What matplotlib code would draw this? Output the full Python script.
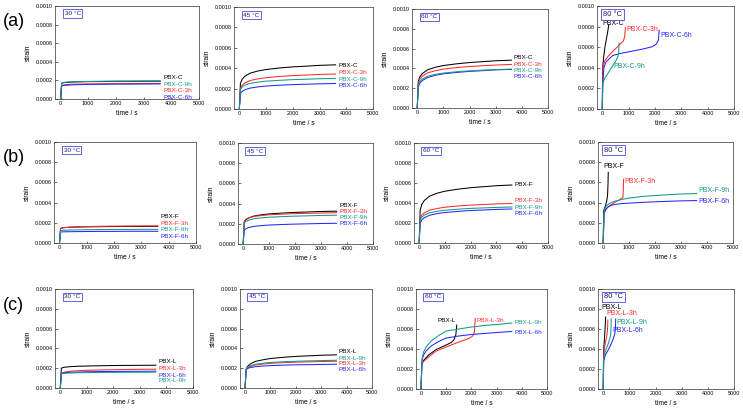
import matplotlib
matplotlib.use("Agg")
import matplotlib.pyplot as plt
import numpy as np

plt.rcParams['font.family'] = ['Liberation Sans', 'DejaVu Sans']

# --- data (strain in units of 1e-4) -------------------------------------
row_names = ["(a)", "(b)", "(c)"]
temps = ["30 °C", "45 °C", "60 °C", "80 °C"]
series_c = ["PBX-C", "PBX-C-3h", "PBX-C-6h", "PBX-C-9h"]
series_f = ["PBX-F", "PBX-F-3h", "PBX-F-6h", "PBX-F-9h"]
series_l = ["PBX-L", "PBX-L-3h", "PBX-L-6h", "PBX-L-9h"]
colors = ["#000000", "#ff2a2a", "#2626ff", "#12998c"]

t_long = [0, 40, 100, 200, 400, 700, 1000, 1500, 2000, 2500, 3000, 3600]

# each list: base, 3h, 6h, 9h
c30 = [[0, 1.70, 1.75, 1.78, 1.82, 1.85, 1.87, 1.88, 1.90, 1.90, 1.91, 1.92],
       [0, 1.45, 1.50, 1.54, 1.58, 1.60, 1.62, 1.64, 1.65, 1.66, 1.67, 1.68],
       [0, 1.40, 1.45, 1.48, 1.52, 1.55, 1.57, 1.58, 1.60, 1.60, 1.61, 1.62],
       [0, 1.72, 1.77, 1.81, 1.85, 1.87, 1.89, 1.91, 1.92, 1.93, 1.94, 1.95]]
c45 = [[0, 2.50, 2.90, 3.20, 3.51, 3.73, 3.87, 4.02, 4.13, 4.20, 4.28, 4.33],
       [0, 2.00, 2.31, 2.54, 2.79, 2.96, 3.07, 3.19, 3.27, 3.33, 3.39, 3.43],
       [0, 1.50, 1.72, 1.88, 2.05, 2.17, 2.25, 2.33, 2.39, 2.43, 2.47, 2.50],
       [0, 1.90, 2.14, 2.32, 2.51, 2.64, 2.73, 2.81, 2.88, 2.92, 2.97, 3.00]]
c60 = [[0, 2.67, 3.15, 3.49, 3.86, 4.12, 4.29, 4.46, 4.59, 4.68, 4.77, 4.83],
       [0, 2.50, 2.92, 3.22, 3.55, 3.77, 3.93, 4.08, 4.19, 4.27, 4.34, 4.40],
       [0, 2.10, 2.50, 2.78, 3.09, 3.31, 3.45, 3.59, 3.70, 3.77, 3.85, 3.90],
       [0, 2.33, 2.68, 2.94, 3.21, 3.40, 3.53, 3.66, 3.75, 3.82, 3.88, 3.93]]
c80_t = [[0, 15, 50, 100, 150, 200, 250],
         [0, 20, 100, 250, 400, 600, 800, 850, 880],
         [0, 20, 60, 150, 400, 700, 1000, 1500, 1900, 2050, 2130, 2160],
         [0, 20, 100, 200, 300, 400, 500, 580, 620, 640]]
c80 = [[0, 4.0, 5.0, 6.0, 6.7, 7.4, 8.2],
       [0, 4.0, 4.7, 5.2, 5.6, 6.1, 6.6, 7.0, 7.9],
       [0, 2.5, 4.0, 4.6, 5.2, 5.4, 5.55, 5.8, 6.05, 6.3, 6.7, 7.65],
       [0, 2.5, 3.0, 3.4, 3.8, 4.2, 4.6, 5.0, 5.4, 6.4]]

f30 = [[0, 1.45, 1.49, 1.53, 1.56, 1.58, 1.60, 1.62, 1.63, 1.64, 1.64, 1.65],
       [0, 1.42, 1.48, 1.53, 1.57, 1.61, 1.63, 1.65, 1.67, 1.68, 1.69, 1.70],
       [0, 1.08, 1.10, 1.11, 1.12, 1.13, 1.14, 1.15, 1.15, 1.16, 1.16, 1.16],
       [0, 1.22, 1.25, 1.27, 1.29, 1.30, 1.32, 1.33, 1.34, 1.34, 1.35, 1.35]]
f45 = [[0, 2.15, 2.39, 2.57, 2.76, 2.89, 2.98, 3.06, 3.13, 3.17, 3.22, 3.25],
       [0, 2.25, 2.44, 2.57, 2.72, 2.82, 2.89, 2.96, 3.01, 3.04, 3.07, 3.10],
       [0, 1.35, 1.50, 1.62, 1.74, 1.82, 1.88, 1.93, 1.97, 2.00, 2.03, 2.05],
       [0, 2.05, 2.23, 2.35, 2.49, 2.59, 2.65, 2.71, 2.76, 2.79, 2.83, 2.85]]
f60 = [[0, 3.30, 3.85, 4.25, 4.68, 4.98, 5.18, 5.38, 5.53, 5.63, 5.73, 5.80],
       [0, 2.45, 2.78, 3.02, 3.28, 3.45, 3.58, 3.70, 3.79, 3.85, 3.91, 3.95],
       [0, 2.00, 2.31, 2.53, 2.77, 2.94, 3.05, 3.16, 3.25, 3.30, 3.36, 3.40],
       [0, 2.30, 2.59, 2.79, 3.02, 3.17, 3.28, 3.38, 3.46, 3.51, 3.56, 3.60]]
f80_t = [[0, 20, 60, 100, 140, 170, 185, 195],
         [0, 20, 100, 200, 400, 600, 760, 775, 785],
         t_long,
         t_long]
f80 = [[0, 3.2, 3.5, 3.8, 4.2, 4.8, 5.8, 7.0],
       [0, 2.8, 3.3, 3.6, 3.95, 4.25, 4.5, 5.3, 6.3],
       [0, 3.00, 3.35, 3.60, 3.80, 3.90, 3.95, 4.02, 4.08, 4.13, 4.17, 4.20],
       [0, 3.30, 3.60, 3.85, 4.10, 4.30, 4.45, 4.60, 4.70, 4.78, 4.85, 4.90]]

l30 = [[0, 2.00, 2.07, 2.11, 2.16, 2.20, 2.22, 2.25, 2.27, 2.28, 2.29, 2.30],
       [0, 1.45, 1.55, 1.62, 1.70, 1.75, 1.79, 1.82, 1.85, 1.87, 1.89, 1.90],
       [0, 1.45, 1.51, 1.55, 1.59, 1.61, 1.64, 1.66, 1.67, 1.68, 1.69, 1.70],
       [0, 1.42, 1.46, 1.49, 1.52, 1.54, 1.55, 1.57, 1.58, 1.59, 1.59, 1.60]]
l45 = [[0, 1.85, 2.18, 2.42, 2.68, 2.85, 2.98, 3.10, 3.19, 3.25, 3.31, 3.35],
       [0, 1.85, 2.04, 2.17, 2.32, 2.42, 2.49, 2.56, 2.61, 2.64, 2.67, 2.70],
       [0, 1.85, 1.97, 2.06, 2.15, 2.22, 2.26, 2.31, 2.34, 2.36, 2.38, 2.40],
       [0, 1.90, 2.10, 2.24, 2.40, 2.50, 2.58, 2.65, 2.70, 2.74, 2.77, 2.80]]
l60_t = [[0, 30, 100, 300, 600, 1000, 1200, 1300, 1380, 1420],
         [0, 30, 100, 300, 600, 1000, 1500, 1900, 2050, 2120, 2150],
         t_long,
         t_long]
l60 = [[0, 2.5, 2.85, 3.4, 3.95, 4.4, 4.65, 4.9, 5.4, 6.4],
       [0, 2.5, 2.75, 3.2, 3.8, 4.2, 4.7, 5.05, 5.3, 5.7, 7.05],
       [0, 2.90, 3.40, 3.80, 4.30, 4.75, 5.10, 5.30, 5.45, 5.55, 5.65, 5.75],
       [0, 3.00, 3.70, 4.20, 4.80, 5.35, 5.80, 6.00, 6.20, 6.35, 6.45, 6.60]]
l80_t = [[0, 10, 20, 40, 60, 80, 90],
         [0, 15, 40, 80, 130, 160, 170, 175],
         [0, 20, 80, 190, 300, 380, 440, 465, 475],
         [0, 15, 60, 130, 200, 260, 290, 300, 305]]
l80 = [[0, 3.0, 4.0, 4.8, 5.6, 6.5, 7.2],
       [0, 3.2, 4.0, 4.6, 5.2, 5.8, 6.3, 6.9],
       [0, 2.8, 3.4, 3.9, 4.5, 5.0, 5.5, 6.0, 7.0],
       [0, 3.0, 3.6, 4.1, 4.6, 5.1, 5.6, 6.2, 7.0]]

# --- layout -------------------------------------------------------------
W, H = 743, 411
# axes boxes in pixels: left, top, right, bottom
boxes = [[(55, 6, 199, 99), (234, 7, 373, 109), (412, 9, 548, 108), (597, 6, 734, 109)],
         [(54, 142, 196, 243), (238, 143, 373, 244), (414, 143, 548, 243), (598, 142, 733, 243)],
         [(55, 289, 193, 388), (240, 289, 372, 388), (416, 289, 547, 389), (598, 289, 734, 389)]]

# label positions (t, strain*1e4) for base, 3h, 6h, 9h
label_pos = [
    [[(3700, 2.3), (3700, 0.9), (3700, 0.2), (3700, 1.6)],
     [(3700, 4.27), (3700, 3.6), (3700, 2.27), (3700, 2.93)],
     [(3700, 5.1), (3700, 4.43), (3700, 3.17), (3700, 3.77)],
     [(0, 8.3), (910, 7.75), (2220, 7.1), (440, 4.1)]],
    [[(3700, 2.65), (3700, 1.9), (3700, 0.6), (3700, 1.3)],
     [(3700, 3.85), (3700, 3.2), (3700, 2.0), (3700, 2.6)],
     [(3700, 5.85), (3700, 4.25), (3700, 2.95), (3700, 3.6)],
     [(0, 7.55), (830, 6.1), (3650, 4.1), (3650, 5.2)]],
    [[(3700, 2.7), (3700, 1.95), (3700, 1.28), (3700, 0.74)],
     [(3700, 3.7), (3700, 2.45), (3700, 1.9), (3700, 3.0)],
     [(670, 6.83), (2190, 6.83), (3720, 5.67), (3720, 6.67)],
     [(-60, 8.15), (130, 7.55), (360, 5.8), (510, 6.7)]],
]

rows = [
    (series_c, [(t_long, c30), (t_long, c45), (t_long, c60), (c80_t, c80)]),
    (series_f, [(t_long, f30), (t_long, f45), (t_long, f60), (f80_t, f80)]),
    (series_l, [(t_long, l30), (t_long, l45), (l60_t, l60), (l80_t, l80)]),
]

fig = plt.figure(figsize=(W / 100, H / 100), dpi=100)

for r, (names, panels) in enumerate(rows):
    for c, (tt, vals) in enumerate(panels):
        l, t, rr, b = boxes[r][c]
        ax = fig.add_axes([l / W, 1 - b / H, (rr - l) / W, (b - t) / H])
        for k in range(4):
            tk = tt[k] if isinstance(tt[0], list) else tt
            ax.plot(tk, np.array(vals[k]) * 1e-4, color=colors[k], lw=0.75)
            px, py = label_pos[r][c][k]
            ax.text(px, py * 1e-4, names[k], color=colors[k],
                    fontsize=4.6 if c < 3 else 5.0, ha='left', va='center')
        ax.set_xlim(-200, 5000)
        ax.set_ylim(0, 0.001)
        ax.set_xticks([0, 1000, 2000, 3000, 4000, 5000])
        ax.set_yticks(np.arange(0, 0.0011, 0.0002))
        ax.yaxis.set_major_formatter(matplotlib.ticker.FormatStrFormatter('%.4f'))
        ax.tick_params(labelsize=3.9, length=1.8, width=0.4, pad=1.5, direction='in')
        for s in ax.spines.values():
            s.set_linewidth(0.5)
            s.set_color('#333333')
        ax.set_xlabel('time / s', fontsize=4.8, labelpad=3)
        ax.set_ylabel('strain', fontsize=4.8, labelpad=3)
        bx = 150 if c < 3 else 20
        ax.text(bx, 0.00092, temps[c], fontsize=4.6 if c < 3 else 5.4,
                color='#1c1c7a', ha='left', va='center',
                bbox=dict(boxstyle='square,pad=0.25', fc='white', ec='#4a4ad8', lw=0.6))
    fig.text(3 / W, 1 - (boxes[r][0][1] + 16) / H, row_names[r], fontsize=13,
             ha='left', va='center')

fig.savefig('out.png', dpi=100)
